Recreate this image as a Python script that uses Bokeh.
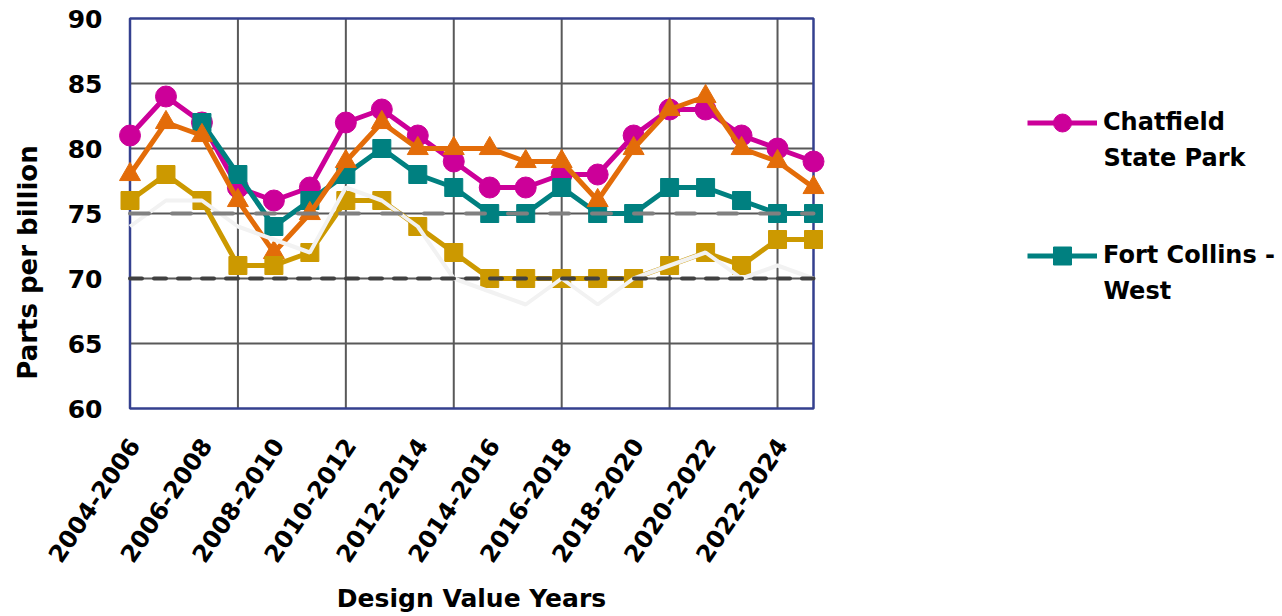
import math
from bokeh.plotting import figure
from bokeh.models import Range1d, Legend, LegendItem, Label
from bokeh.core.properties import value
from bokeh.embed import file_html
from bokeh.resources import INLINE

nan = float("nan")

years = ["2004-2006", "2005-2007", "2006-2008", "2007-2009", "2008-2010",
         "2009-2011", "2010-2012", "2011-2013", "2012-2014", "2013-2015",
         "2014-2016", "2015-2017", "2016-2018", "2017-2019", "2018-2020",
         "2019-2021", "2020-2022", "2021-2023", "2022-2024", "2023-2025"]

chatfield = [81, 84, 82, 77, 76, 77, 82, 83, 81, 79, 77, 77, 78, 78, 81, 83, 83, 81, 80, 79]
fort_collins_west = [nan, nan, 82, 78, 74, 76, 78, 80, 78, 77, 75, 75, 77, 75, 75, 77, 77, 76, 75, 75]
site_orange = [78, 82, 81, 76, 72, 75, 79, 82, 80, 80, 80, 79, 79, 76, 80, 83, 84, 80, 79, 77]
site_gold = [76, 78, 76, 71, 71, 72, 76, 76, 74, 72, 70, 70, 70, 70, 70, 71, 72, 71, 73, 73]
site_light = [74, 76, 76, 74, 73, 72, 77, 76, 74, 70, 69, 68, 70, 68, 70, 71, 72, 70, 71, 70]

standard_2008 = 75
standard_2015 = 70
y_ticks = [60, 65, 70, 75, 80, 85, 90]
x_label_step = 2
x_grid_step = 3

FONT = "DejaVu Sans"
W, H = 1282, 616
# plot-area box in canvas pixels
L, R, T, B = 129.5, 813.0, 18.0, 408.0

x = list(range(len(years)))
xmax = len(years) - 1
ymin, ymaxv = y_ticks[0], y_ticks[-1]
ux = (R - L) / xmax
uy = (B - T) / (ymaxv - ymin)

p = figure(width=W, height=H,
           x_range=Range1d(0 - L / ux, xmax + (W - R) / ux),
           y_range=Range1d(ymin - (H - B) / uy, ymaxv + T / uy),
           x_axis_type=None, y_axis_type=None,
           output_backend="svg", toolbar_location=None, min_border=0)
p.outline_line_color = None
p.grid.visible = False
p.background_fill_color = "white"

# gridlines
hg = y_ticks[1:-1]
p.segment(x0=[0] * len(hg), x1=[xmax] * len(hg), y0=hg, y1=hg,
          line_color="#595959", line_width=2)
vg = x[x_grid_step:xmax:x_grid_step]
p.segment(x0=vg, x1=vg, y0=[ymin] * len(vg), y1=[ymaxv] * len(vg),
          line_color="#595959", line_width=2)
# plot border
p.quad(left=[0], right=[xmax], bottom=[ymin], top=[ymaxv],
       fill_color=None, line_color="#34408f", line_width=2.5)

lw = 5
l1 = p.line(x, chatfield, line_color="#cc0099", line_width=lw)
s1 = p.scatter(x, chatfield, marker="circle", size=21, color="#cc0099")
l2 = p.line(x, fort_collins_west, line_color="#008080", line_width=lw)
s2 = p.scatter(x, fort_collins_west, marker="square", size=18, color="#008080")
l3 = p.line(x, site_orange, line_color="#e36c09", line_width=lw)
s3 = p.scatter(x, site_orange, marker="triangle", size=21, color="#e36c09")
l4 = p.line(x, site_gold, line_color="#cc9900", line_width=lw)
s4 = p.scatter(x, site_gold, marker="square", size=18, color="#cc9900")
l5 = p.line(x, site_light, line_color="#f2f2f2", line_width=4)

p.line([0, xmax], [standard_2008, standard_2008], line_color="#808080",
       line_width=4, line_dash="19 23", line_cap="round")
p.line([0, xmax], [standard_2015, standard_2015], line_color="#404040",
       line_width=4, line_dash="12 12", line_cap="round")

txt_style = dict(text_font=value(FONT), text_font_style="bold",
                 text_color="black")

# y tick labels
p.text(x=[0] * len(y_ticks), y=y_ticks, text=[str(t) for t in y_ticks],
       x_offset=-27.5, text_align="right", text_baseline="middle",
       text_font_size="25px", **txt_style)
# x tick labels
xt = x[::x_label_step]
p.text(x=xt, y=[ymin] * len(xt), text=[years[i] for i in xt],
       angle=math.radians(56), x_offset=4, y_offset=32,
       text_align="right", text_baseline="middle",
       text_font_size="24px", **txt_style)

# axis titles
p.add_layout(Label(x=471, y=H - 598, x_units="screen", y_units="screen",
                   text="Design Value Years", text_align="center",
                   text_baseline="middle", text_font=FONT, text_font_style="bold",
                   text_font_size="25px", text_color="black"))
p.add_layout(Label(x=27, y=H - 262, x_units="screen", y_units="screen",
                   text="Parts per billion", angle=math.pi / 2,
                   text_align="center", text_baseline="middle",
                   text_font=FONT, text_font_style="bold",
                   text_font_size="26px", text_color="black"))

legend = Legend(items=[LegendItem(label="Chatfield", renderers=[l1, s1]),
                       LegendItem(label="Fort Collins -", renderers=[l2, s2])],
                location=(1027, H - 277.5), orientation="vertical",
                padding=0, margin=0, spacing=88,
                glyph_width=70, glyph_height=45, label_standoff=6,
                label_text_font=FONT, label_text_font_style="bold",
                label_text_font_size="24px", label_text_color="black",
                border_line_color=None, background_fill_alpha=0)
p.add_layout(legend)

for txt, yy in [("State Park", 157), ("West", 290)]:
    p.add_layout(Label(x=1103, y=H - yy, x_units="screen", y_units="screen",
                       text=txt, text_align="left", text_baseline="middle",
                       text_font=FONT, text_font_style="bold",
                       text_font_size="24px", text_color="black"))

open("out.html", "w").write(file_html(p, INLINE))
